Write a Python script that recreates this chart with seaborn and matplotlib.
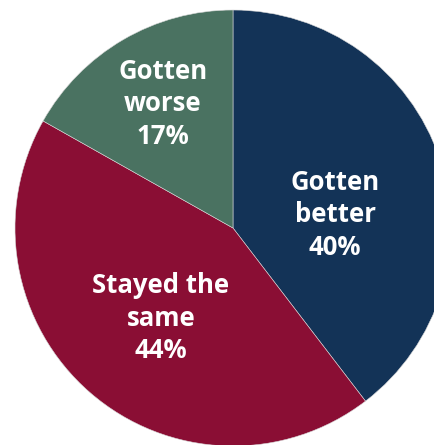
import matplotlib
matplotlib.use('Agg')
import matplotlib.pyplot as plt
import seaborn as sns

# data
labels = ['Gotten\nbetter', 'Stayed the\nsame', 'Gotten\nworse']
shares = [40, 44, 17]
colors = ['#133357', '#8A0E34', '#4A7261']

sns.set_theme(style='white')
plt.rcParams['font.family'] = ['Open Sans', 'DejaVu Sans']

fig = plt.figure(figsize=(4.34, 4.45), dpi=100)
ax = fig.add_axes([0, 0, 1, 1])

wedges, _ = ax.pie(shares, colors=colors, startangle=90, counterclock=False,
                   wedgeprops=dict(edgecolor='#d8d8d8', linewidth=0.4))

# label spots inside each wedge (x, y in pie units)
label_xy = [(0.468, 0.060), (-0.330, -0.413), (-0.321, 0.569)]
for lab, val, (x, y) in zip(labels, shares, label_xy):
    ax.text(x, y, f'{lab}\n{val}%', ha='center', va='center', color='white',
            fontsize=18.5, fontweight='bold', linespacing=1.28)

# crop as in the reference (pie runs off right edge)
ax.set_xlim(-1.0688, 0.922)
ax.set_ylim(-0.9954, 1.0459)
ax.set_aspect('auto')
ax.axis('off')

fig.savefig('out.png', dpi=100)
